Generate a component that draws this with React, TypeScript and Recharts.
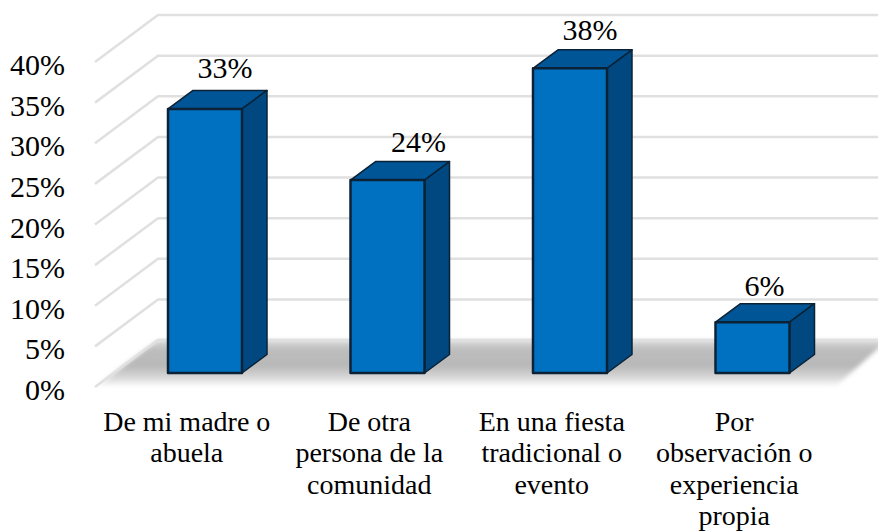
import React from 'react';
import { BarChart, Bar, XAxis, YAxis, CartesianGrid, LabelList } from 'recharts';

const categories = [
  'De mi madre o\nabuela',
  'De otra\npersona de la\ncomunidad',
  'En una fiesta\ntradicional o\nevento',
  'Por\nobservación o\nexperiencia\npropia',
];
const values = [32.5, 23.75, 37.5, 6.25];
const yTicks = [0, 5, 10, 15, 20, 25, 30, 35, 40];

// hand placement of the value labels, same order as categories
const labelNudgeX = [20, 31, 20, 12];
const labelNudgeY = [-41, -38, -38, -36];

const data = categories.map((name, i) => ({ name, value: values[i] }));

const FONT = '"Liberation Serif", "Times New Roman", serif';
const PLOT_BOTTOM = 373;

// how far the floor reaches in front of and behind the plane of the bars
const FRONT = { dx: -19, dy: 14 };
const BACK = { dx: 44, dy: -33 };
const BAR_DEPTH = { dx: 25, dy: -18.5 };

const GridLine = (props: any) => {
  const { x1, x2, y1 } = props;
  const isFloor = Math.abs(y1 - PLOT_BOTTOM) < 0.5;
  const lx = x1 + FRONT.dx;
  const ly = y1 + FRONT.dy;
  const bx = x1 + BACK.dx;
  const by = y1 + BACK.dy;
  return (
    <g>
      {isFloor && (
        <g>
          <defs>
            <linearGradient id="floorShade" x1="0" y1="0" x2="0" y2="1">
              <stop offset="0" stopColor="#dcdcdc" />
              <stop offset="0.2" stopColor="#bdbdbd" />
              <stop offset="0.55" stopColor="#b8b8b8" />
              <stop offset="0.8" stopColor="#d8d8d8" />
              <stop offset="1" stopColor="#ffffff" />
            </linearGradient>
            <filter id="floorBlur" x="-5%" y="-20%" width="110%" height="140%">
              <feGaussianBlur stdDeviation="2" />
            </filter>
          </defs>
          <polygon
            points={`${bx},${by} ${x2 + BACK.dx},${by} ${x2 + FRONT.dx + 10},${ly} ${lx},${ly}`}
            fill="url(#floorShade)"
            filter="url(#floorBlur)"
          />
        </g>
      )}
      <polyline
        points={`${lx},${ly} ${bx},${by} ${x2 + BACK.dx},${by}`}
        fill="none"
        stroke="#e0e0e0"
        strokeWidth={2.5}
      />
    </g>
  );
};

const Bar3D = (props: any) => {
  const { x, y, width, height } = props;
  const { dx, dy } = BAR_DEPTH;
  const r = x + width;
  const b = y + height;
  return (
    <g stroke="#0b2236" strokeLinejoin="round">
      <polygon points={`${x},${y} ${x + dx},${y + dy} ${r + dx},${y + dy} ${r},${y}`} fill="#005596" strokeWidth={1.5} />
      <polygon points={`${r},${y} ${r + dx},${y + dy} ${r + dx},${b + dy} ${r},${b}`} fill="#00487f" strokeWidth={1.5} />
      <rect x={x} y={y} width={width} height={height} fill="#0070c0" strokeWidth={2.5} />
    </g>
  );
};

const YTick = (props: any) => (
  <text x={65} y={props.y + 17} dy={10} textAnchor="end" fontFamily={FONT} fontSize={30} fill="#000">
    {props.payload.value}%
  </text>
);

const XTick = (props: any) => {
  const lines = String(props.payload.value).split('\n');
  return (
    <text textAnchor="middle" fontFamily={FONT} fontSize={28} fill="#000">
      {lines.map((line, i) => (
        <tspan key={i} x={props.x + FRONT.dx + 0.5} y={430.5 + i * 31.5}>
          {line}
        </tspan>
      ))}
    </text>
  );
};

const ValueLabel = (props: any) => {
  const { x, y, width, value, index } = props;
  return (
    <text
      x={x + width / 2 + labelNudgeX[index]}
      y={y + labelNudgeY[index] + 10}
      textAnchor="middle"
      fontFamily={FONT}
      fontSize={30}
      fill="#000"
    >
      {Math.round(value)}%
    </text>
  );
};

export default function App() {
  return (
    <div style={{ position: 'absolute', left: 0, top: 0, width: 878, height: 531, overflow: 'hidden', background: '#fff' }}>
      <BarChart
        width={878}
        height={531}
        data={data}
        margin={{ top: 48, right: 34, bottom: 98, left: 54 }}
      >
        <CartesianGrid vertical={false} horizontal={(p: any) => <GridLine key={p.key ?? p.index} {...p} />} />
        <XAxis dataKey="name" interval={0} axisLine={false} tickLine={false} tick={<XTick />} height={60} />
        <YAxis domain={[0, 40]} ticks={yTicks} axisLine={false} tickLine={false} tick={<YTick />} width={60} />
        <Bar dataKey="value" barSize={74} isAnimationActive={false} shape={<Bar3D />}>
          <LabelList dataKey="value" content={<ValueLabel />} />
        </Bar>
      </BarChart>
    </div>
  );
}
